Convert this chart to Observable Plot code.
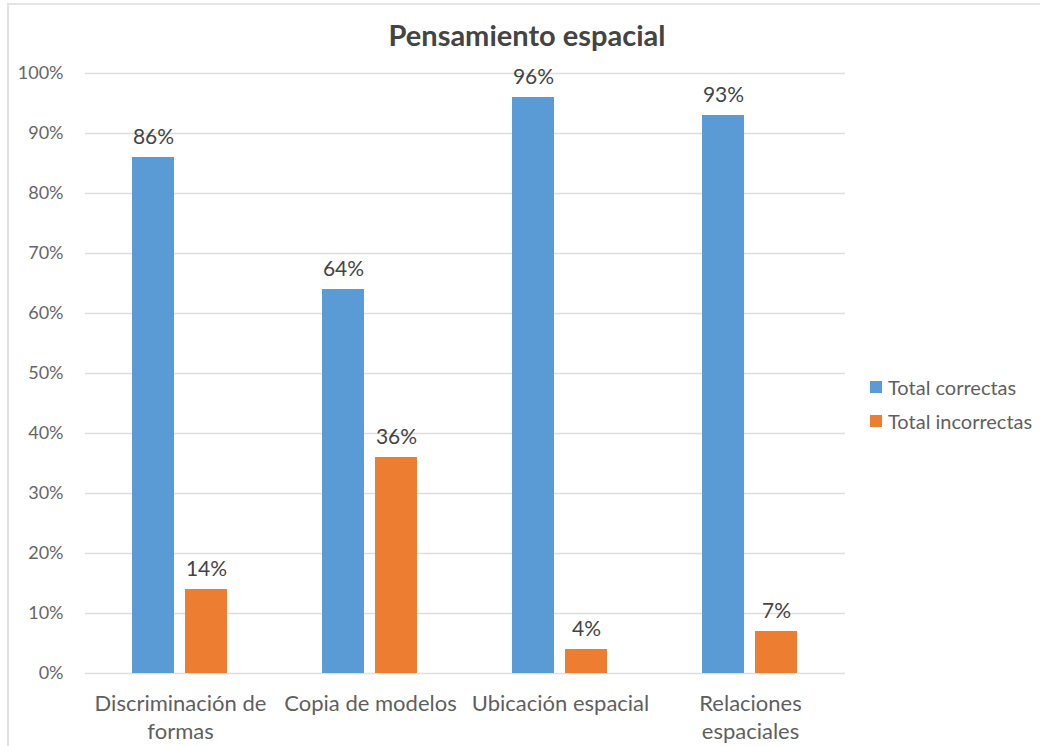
<!DOCTYPE html>
<html>
<head>
<meta charset="utf-8">
<script src="https://cdn.jsdelivr.net/npm/d3@7"></script>
<script src="https://cdn.jsdelivr.net/npm/@observablehq/plot@0.6"></script>
<style>
  body { margin: 0; background: #fff; }
  #chart { position: relative; width: 1040px; height: 746px; overflow: hidden; font-family: Lato, "Open Sans", sans-serif; }
  #frame { position: absolute; left: 7px; top: 3px; width: 1100px; height: 800px; border-top: 2px solid #e3e3e3; border-left: 2px solid #e3e3e3; box-sizing: border-box; }
  #chart svg { position: absolute; left: 0; top: 0; }
  #title { position: absolute; top: 20px; left: 527px; transform: translateX(-50%); font-size: 29px; line-height: 1; font-weight: bold; color: #444; white-space: nowrap; }
  #legend { position: absolute; left: 870px; top: 370px; font-size: 20px; color: #5f5f5f; }
  #legend .item { display: flex; align-items: center; height: 34px; white-space: nowrap; }
  #legend .sw { width: 12px; height: 12px; margin-right: 6px; flex: none; }
</style>
</head>
<body>
<div id="chart">
  <div id="frame"></div>
  <div id="title">Pensamiento espacial</div>
  <div id="legend"></div>
</div>
<script>
// Categories and their two-line axis labels
const categories = ["Discriminación de formas", "Copia de modelos", "Ubicación espacial", "Relaciones espaciales"];
const categoryLabels = ["Discriminación de\nformas", "Copia de modelos", "Ubicación espacial", "Relaciones\nespaciales"];

// Series (percent of answers)
const seriesNames = ["Total correctas", "Total incorrectas"];
const correctas = [86, 64, 96, 93];
const incorrectas = [14, 36, 4, 7];
const seriesColors = ["#5B9BD5", "#ED7D31"];

// Y axis ticks (percent)
const yTicks = [0, 10, 20, 30, 40, 50, 60, 70, 80, 90, 100];

const rows = categories.flatMap((c, i) => [
  {category: c, series: seriesNames[0], value: correctas[i]},
  {category: c, series: seriesNames[1], value: incorrectas[i]}
]);

const chart = Plot.plot({
  width: 1040,
  height: 746,
  marginTop: 73,
  marginBottom: 73,
  marginLeft: 85,
  marginRight: 195,
  style: {fontFamily: "Lato, 'Open Sans', sans-serif", background: "transparent"},
  fx: {domain: categories, padding: 0, axis: null},
  x: {domain: seriesNames, paddingInner: 0.2075, paddingOuter: 0.896, axis: null},
  y: {domain: [0, 100], axis: null},
  color: {domain: seriesNames, range: seriesColors},
  marks: [
    Plot.gridY(yTicks, {stroke: "#dedede", strokeOpacity: 1, strokeWidth: 1.5}),
    Plot.barY(rows, {fx: "category", x: "series", y: "value", fill: "series"}),
    Plot.text(rows, {
      fx: "category", x: "series", y: "value",
      text: d => `${d.value}%`,
      dy: -20, lineAnchor: "middle",
      fontSize: 21, fill: "#444"
    }),
    Plot.axisY(yTicks, {
      tickSize: 0, tickPadding: 22,
      tickFormat: d => `${d}%`,
      fontSize: 18, color: "#666", label: null
    }),
    Plot.axisFx({
      anchor: "bottom", tickSize: 0, tickPadding: 17,
      tickFormat: d => categoryLabels[categories.indexOf(d)],
      fontSize: 22, lineHeight: 1.3, color: "#5f5f5f", label: null
    })
  ]
});

document.getElementById("chart").appendChild(chart);

// Legend: one swatch per series, stacked vertically
const legend = d3.select("#legend");
seriesNames.forEach((name, i) => {
  const item = legend.append("div").attr("class", "item");
  item.append("div").attr("class", "sw").style("background", seriesColors[i]);
  item.append("span").text(name);
});
</script>
</body>
</html>
